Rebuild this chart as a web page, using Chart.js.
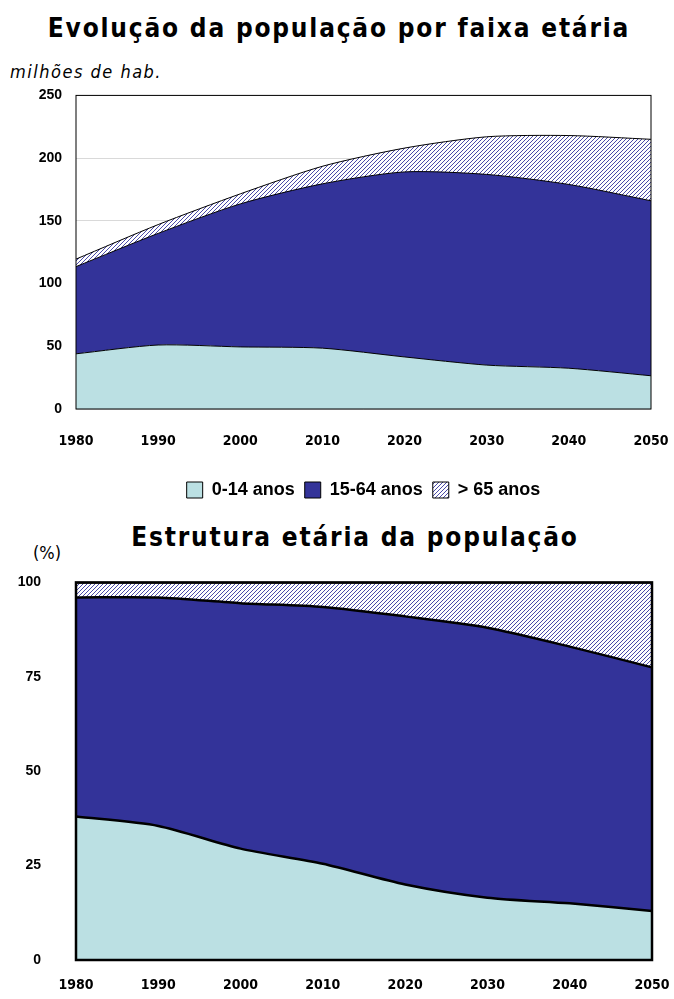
<!DOCTYPE html>
<html>
<head>
<meta charset="utf-8">
<script src="https://cdn.jsdelivr.net/npm/chart.js@4.4.1/dist/chart.umd.min.js"></script>
<style>
  body { margin: 0; width: 674px; height: 999px; position: relative; background: #fff; overflow: hidden; }
  .txt { position: absolute; white-space: nowrap; color: #000;
         font-family: "DejaVu Sans Condensed", "DejaVu Sans", sans-serif; font-stretch: condensed; }
  .title { font-weight: bold; font-size: 26px; letter-spacing: 1.8px; transform: translate(-50%, -50%); }
  .box { position: absolute; left: 0; width: 674px; }
</style>
</head>
<body>
<div class="txt title" style="left:339px; top:28px;">Evolução da população por faixa etária</div>
<div class="txt" style="left:10px; top:61px; font-size:18px; font-style:italic; letter-spacing:1.5px;">milhões de hab.</div>
<div class="box" style="top:73px; height:436px;"><canvas id="absChart"></canvas></div>

<div class="txt title" style="left:355px; top:537px;">Estrutura etária da população</div>
<div class="txt" style="left:33px; top:542px; font-size:18px;">(%)</div>
<div class="box" style="top:547px; height:452px;"><canvas id="pctChart"></canvas></div>

<script>
// categories
const years = ['1980', '1990', '2000', '2010', '2020', '2030', '2040', '2050'];
const groups = ['0-14 anos', '15-64 anos', '> 65 anos'];

// population, millions
const pop0to14 = [44, 51, 49.5, 48.5, 41.5, 35, 32.5, 26.5];
const pop15to64 = [69.5, 89, 114, 131, 147.5, 152, 146.5, 139.5];
const pop65plus = [6, 7, 8, 14, 19, 30, 39, 49];

// share of population, %
const pct0to14 = [38, 35.5, 29.5, 25.5, 20, 16.5, 15, 13];
const pct15to64 = [58, 60.5, 65, 68, 71, 71.5, 68, 64.5];
const pct65plus = [4, 4, 5.5, 6.5, 9, 12, 17, 22.5];

// axis ticks
const absMax = 250, absStep = 50;
const pctMax = 100, pctStep = 25;

const lightCyan = '#bbe0e3';
const navy = '#333399';

// diagonal hatch for > 65 anos
function makeHatch() {
  const n = 4;
  const c = document.createElement('canvas');
  c.width = n; c.height = n;
  const g = c.getContext('2d');
  g.fillStyle = '#fff';
  g.fillRect(0, 0, n, n);
  g.strokeStyle = '#4b4ba8';
  g.lineWidth = 1;
  g.beginPath();
  g.moveTo(-1, n + 1); g.lineTo(n + 1, -1);
  g.moveTo(-1, 1); g.lineTo(1, -1);
  g.moveTo(n - 1, n + 1); g.lineTo(n + 1, n - 1);
  g.stroke();
  return g.createPattern(c, 'repeat');
}
const hatch = makeHatch();

// box round the plot area
const frame = {
  id: 'frame',
  afterDatasetsDraw(chart, args, opts) {
    const a = chart.chartArea, ctx = chart.ctx;
    ctx.save();
    ctx.strokeStyle = '#000';
    ctx.lineWidth = opts.width;
    ctx.strokeRect(a.left, a.top, a.right - a.left, a.bottom - a.top);
    ctx.restore();
  }
};

function makeDatasets(values, lineWidth) {
  const fills = [lightCyan, navy, hatch];
  return values.map((v, i) => ({
    label: groups[i],
    data: v,
    backgroundColor: fills[i],
    borderColor: '#000',
    borderWidth: lineWidth,
    fill: i === 0 ? 'origin' : '-1',
    pointRadius: 0,
    tension: 0.25
  }));
}

const tickFont = { family: '"Liberation Sans", Arial, sans-serif', size: 14, weight: 'bold' };
const yearFont = { family: '"DejaVu Sans Condensed", "DejaVu Sans", sans-serif', size: 14, weight: 'bold' };

// fixed x axis height, no extra side padding for the end labels
const fitX = h => s => { s.height = h; s.paddingLeft = 0; s.paddingRight = 0; };

// Top chart: millions of inhabitants
new Chart(document.getElementById('absChart'), {
  type: 'line',
  data: { labels: years, datasets: makeDatasets([pop0to14, pop15to64, pop65plus], 1) },
  options: {
    responsive: true,
    maintainAspectRatio: false,
    animation: false,
    layout: { padding: { top: 9, right: 23, left: 0, bottom: 0 } },
    scales: {
      x: {
        grid: { display: false, drawTicks: false },
        border: { display: false },
        ticks: { color: '#000', font: yearFont, padding: 24, maxRotation: 0 },
        afterFit: fitX(62)
      },
      y: {
        stacked: true,
        min: 0, max: absMax,
        grid: { color: '#d9d9d9', drawTicks: false },
        border: { display: false },
        ticks: { stepSize: absStep, color: '#000', font: tickFont, padding: 14 },
        afterFit: s => { s.width = 76; }
      }
    },
    plugins: {
      frame: { width: 1 },
      tooltip: { enabled: false },
      legend: {
        position: 'bottom',
        fullSize: false,
        labels: { color: '#000', boxWidth: 16, boxHeight: 16, padding: 10,
                  font: { family: '"Liberation Sans", Arial, sans-serif', size: 18, weight: 'bold' } }
      }
    }
  },
  plugins: [frame]
});

// Bottom chart: age structure, %
new Chart(document.getElementById('pctChart'), {
  type: 'line',
  data: { labels: years, datasets: makeDatasets([pct0to14, pct15to64, pct65plus], 2.5) },
  options: {
    responsive: true,
    maintainAspectRatio: false,
    animation: false,
    layout: { padding: { top: 31, right: 22, left: 0, bottom: 0 } },
    scales: {
      x: {
        grid: { display: false, drawTicks: false },
        border: { display: false },
        ticks: { color: '#000', font: yearFont, padding: 17, maxRotation: 0 },
        afterFit: fitX(39)
      },
      y: {
        stacked: true,
        min: 0, max: pctMax,
        grid: { display: false },
        border: { display: false },
        ticks: { stepSize: pctStep, color: '#000', font: tickFont, padding: 27 },
        afterFit: s => { s.width = 76; }
      }
    },
    plugins: {
      frame: { width: 2.5 },
      tooltip: { enabled: false },
      legend: { display: false }
    }
  },
  plugins: [frame]
});
</script>
</body>
</html>
